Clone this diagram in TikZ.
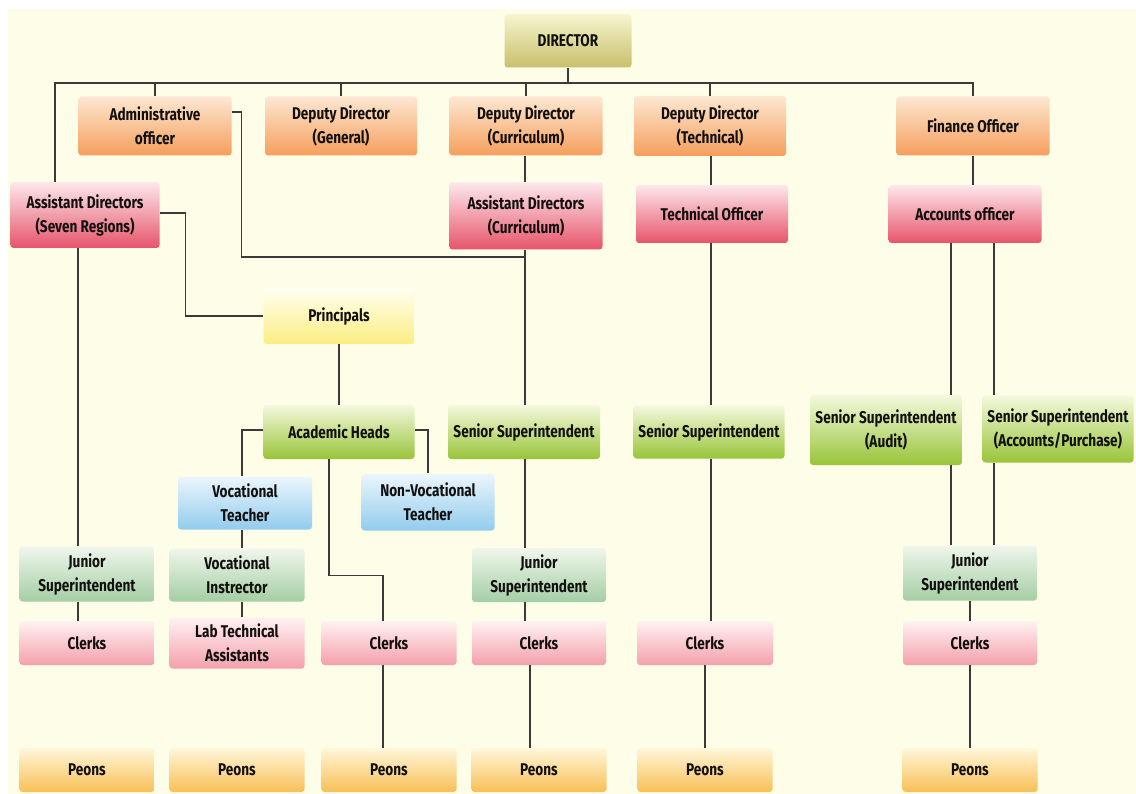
\documentclass[tikz,border=0pt]{standalone}
\usepackage{fontspec}
\newfontfamily\orgfont{Fira Sans}[FakeStretch=0.8]
\usetikzlibrary{calc}

\definecolor{bgcream}{RGB}{254,253,232}
\definecolor{linkgray}{RGB}{58,58,58}
\definecolor{inkdark}{RGB}{18,16,14}

\begin{document}
\begin{tikzpicture}[
        x=1pt, y=-1pt,
        unit/.style={
          rounded corners=3pt,
          align=center,
          inner sep=0pt,
          text=inkdark,
          font=\orgfont\bfseries\fontsize{17}{24}\selectfont
        },
        dirbox/.style={unit, top color={rgb,255:red,246;green,244;blue,206}, bottom color={rgb,255:red,200;green,192;blue,108}},
        orangebox/.style={unit, top color={rgb,255:red,253;green,232;blue,210}, bottom color={rgb,255:red,245;green,158;blue,92}},
        redbox/.style={unit, top color={rgb,255:red,253;green,232;blue,236}, bottom color={rgb,255:red,230;green,84;blue,106}},
        yellowbox/.style={unit, top color={rgb,255:red,255;green,255;blue,240}, bottom color={rgb,255:red,252;green,238;blue,130}},
        greenbox/.style={unit, top color={rgb,255:red,244;green,249;blue,222}, bottom color={rgb,255:red,152;green,196;blue,56}},
        bluebox/.style={unit, top color={rgb,255:red,236;green,246;blue,252}, bottom color={rgb,255:red,146;green,204;blue,238}},
        juniorbox/.style={unit, top color={rgb,255:red,240;green,246;blue,236}, bottom color={rgb,255:red,164;green,206;blue,164}},
        clerkbox/.style={unit, top color={rgb,255:red,255;green,242;blue,242}, bottom color={rgb,255:red,244;green,160;blue,172}},
        peonbox/.style={unit, top color={rgb,255:red,255;green,246;blue,218}, bottom color={rgb,255:red,248;green,192;blue,86}},
        link/.style={draw=linkgray, line width=1.2pt}
      ]

        % page and background
        \useasboundingbox (0,0) rectangle (1136,794);
        \fill[white] (0,0) rectangle (1136,794);
        \fill[bgcream] (8,9) rectangle (1136,794);

        % top level
        \node[dirbox, minimum width=127pt, minimum height=53pt] (dir) at (568,41) {DIRECTOR};

        \node[orangebox, minimum width=153pt, minimum height=59pt] (admin) at (155,126) {Administrative\\officer};
        \node[orangebox, minimum width=152pt, minimum height=59pt] (ddg) at (341,126) {Deputy Director\\(General)};
        \node[orangebox, minimum width=153pt, minimum height=59pt] (ddc) at (526,126) {Deputy Director\\(Curriculum)};
        \node[orangebox, minimum width=152pt, minimum height=60pt] (ddt) at (710,126) {Deputy Director\\(Technical)};
        \node[orangebox, minimum width=153pt, minimum height=59pt] (fin) at (973,126) {Finance Officer};

        % second level
        \node[redbox, minimum width=149pt, minimum height=66pt] (adsr) at (85,215) {Assistant Directors\\(Seven Regions)};
        \node[redbox, minimum width=153pt, minimum height=67pt] (adc) at (526,216) {Assistant Directors\\(Curriculum)};
        \node[redbox, minimum width=152pt, minimum height=58pt] (tech) at (712,214) {Technical Officer};
        \node[redbox, minimum width=153pt, minimum height=58pt] (acc) at (965,214) {Accounts officer};

        % schools and superintendents
        \node[yellowbox, minimum width=151pt, minimum height=56pt] (prin) at (339,316) {Principals};
        \node[greenbox, minimum width=151pt, minimum height=54pt] (acad) at (339,432) {Academic Heads};
        \node[greenbox, minimum width=152pt, minimum height=54pt] (ss4) at (524,432) {Senior Superintendent};
        \node[greenbox, minimum width=151pt, minimum height=53pt] (ss5) at (709,432) {Senior Superintendent};
        \node[greenbox, minimum width=152pt, minimum height=70pt] (audit) at (886,430) {Senior Superintendent\\(Audit)};
        \node[greenbox, minimum width=151pt, minimum height=67pt] (accp) at (1058,429) {Senior Superintendent\\(Accounts/Purchase)};

        \node[bluebox, minimum width=134pt, minimum height=53pt] (vt) at (245,503) {Vocational\\Teacher};
        \node[bluebox, minimum width=133pt, minimum height=57pt] (nvt) at (428,502) {Non-Vocational\\Teacher};

        % junior row
        \node[juniorbox, minimum width=135pt, minimum height=55pt] (js1) at (87,574) {Junior\\Superintendent};
        \node[juniorbox, minimum width=135pt, minimum height=53pt] (vi) at (237,575) {Vocational\\Instrector};
        \node[juniorbox, minimum width=134pt, minimum height=54pt] (js4) at (539,575) {Junior\\Superintendent};
        \node[juniorbox, minimum width=134pt, minimum height=55pt] (js6) at (970,573) {Junior\\Superintendent};

        % clerks row
        \node[clerkbox, minimum width=135pt, minimum height=44pt] (clk1) at (87,643) {Clerks};
        \node[clerkbox, minimum width=135pt, minimum height=51pt] (lab) at (237,643) {Lab Technical\\Assistants};
        \node[clerkbox, minimum width=135pt, minimum height=44pt] (clk3) at (389,643) {Clerks};
        \node[clerkbox, minimum width=134pt, minimum height=44pt] (clk4) at (539,643) {Clerks};
        \node[clerkbox, minimum width=136pt, minimum height=44pt] (clk5) at (705,643) {Clerks};
        \node[clerkbox, minimum width=134pt, minimum height=44pt] (clk6) at (970,643) {Clerks};

        % peons row
        \foreach \n/\x in {1/87, 2/237, 3/389, 4/539, 5/705, 6/970}
          \node[peonbox, minimum width=135pt, minimum height=44pt] (peon\n) at (\x,770) {Peons};

        % line columns
        \coordinate (busL) at (55,83);
        \coordinate (busR) at (973,83);
        \coordinate (xsr) at (78,0);
        \coordinate (xvt) at (242,0);
        \coordinate (xcl3) at (383,0);
        \coordinate (xcur) at (525,0);
        \coordinate (xcl4) at (530,0);
        \coordinate (xtec) at (711,0);
        \coordinate (xaud) at (951,0);
        \coordinate (xpur) at (994,0);
        \coordinate (join) at (525,257);

        % director and bus
        \draw[link] (dir.south) -- (dir.south |- busL);
        \draw[link] (adsr.north -| busL) -- (busL) -- (busR) -- (fin.north -| busR);
        \foreach \n in {admin,ddg,ddc,ddt}
          \draw[link] (\n.north) -- (\n.north |- busL);

        % curriculum column
        \draw[link] (ddc.south -| xcur) -- (adc.north -| xcur);
        \draw[link] (adc.south -| xcur) -- (ss4.north -| xcur);
        \draw[link] ([yshift=14pt]admin.east) -- ++(10,0) |- (join);
        \draw[link] (ss4.south -| xcur) -- (js4.north -| xcur);
        \draw[link] (js4.south -| xcur) -- (clk4.north -| xcur);
        \draw[link] (clk4.south -| xcl4) -- (peon4.north -| xcl4);

        % technical column
        \draw[link] (ddt.south -| xtec) -- (tech.north -| xtec);
        \draw[link] (tech.south -| xtec) -- (ss5.north -| xtec);
        \draw[link] (ss5.south -| xtec) -- (clk5.north -| xtec);
        \draw[link] (clk5.south) -- (peon5.north);

        % finance column
        \draw[link] (fin.south) -- (fin.south |- acc.north);
        \draw[link] (acc.south -| xaud) -- (audit.north -| xaud);
        \draw[link] (acc.south -| xpur) -- (accp.north -| xpur);
        \draw[link] (audit.south -| xaud) -- (js6.north -| xaud);
        \draw[link] (accp.south -| xpur) -- (js6.north -| xpur);
        \draw[link] (js6.south) -- (clk6.north);
        \draw[link] (clk6.south) -- (peon6.north);

        % regions column
        \draw[link] (adsr.south -| xsr) -- (js1.north -| xsr);
        \draw[link] (js1.south -| xsr) -- (clk1.north -| xsr);
        \draw[link] ([yshift=2pt]adsr.east) -- ++(26,0) |- (prin.west);

        % schools
        \draw[link] (prin.south) -- (prin.south |- acad.north);
        \draw[link] ([yshift=2pt]acad.west) -| (vt.north -| xvt);
        \draw[link] ([yshift=2pt]acad.east) -| (nvt.north);
        \draw[link] ([xshift=-10pt]acad.south) -- ++(0,116) -| (clk3.north -| xcl3);
        \draw[link] (clk3.south -| xcl3) -- (peon3.north -| xcl3);
        \draw[link] (vt.south -| xvt) -- (vi.north -| xvt);
        \draw[link] (vi.south -| xvt) -- (lab.north -| xvt);

      \end{tikzpicture}
\end{document}
